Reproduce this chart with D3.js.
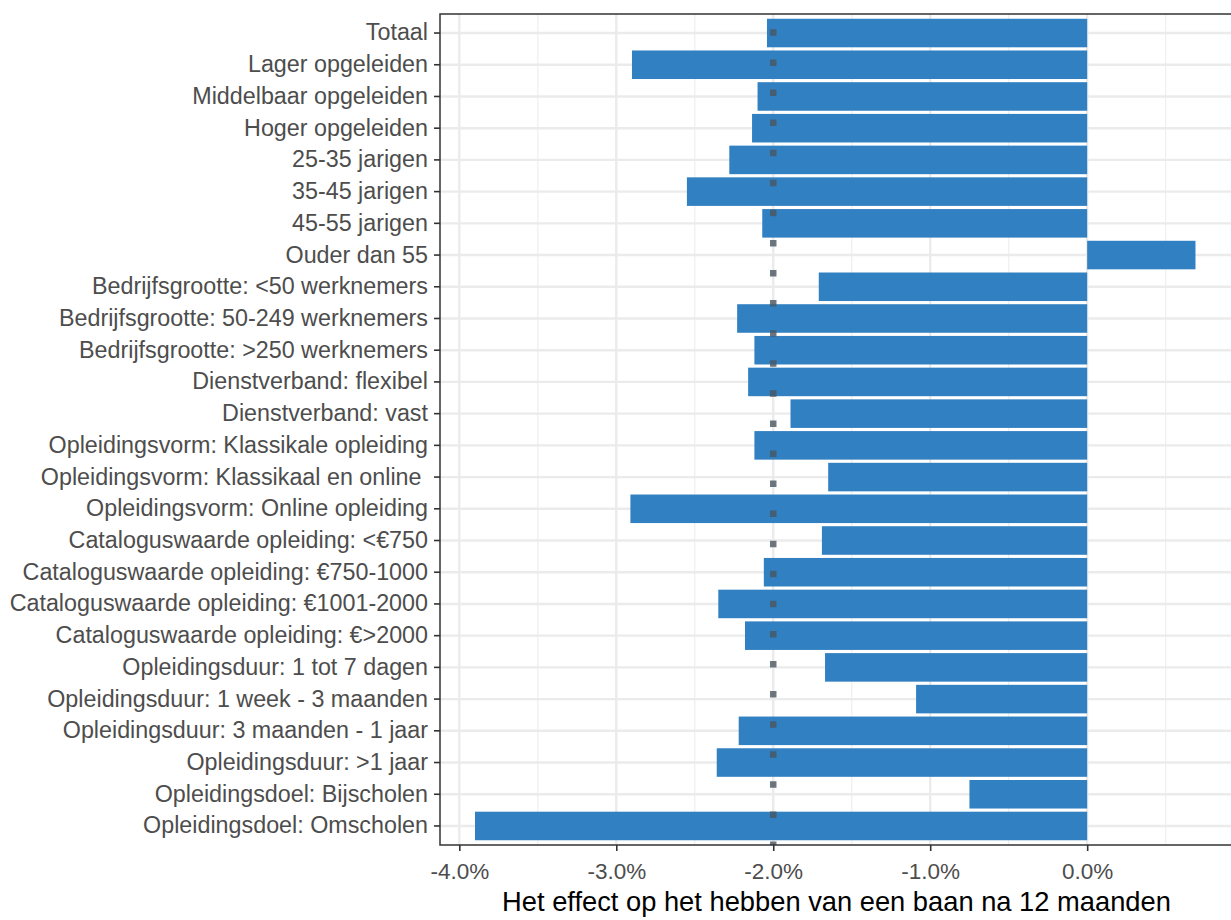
<!DOCTYPE html>
<html>
<head>
<meta charset="utf-8">
<script src="https://cdn.jsdelivr.net/npm/d3@7"></script>
<style>
  body { margin: 0; background: #fff; }
  svg { display: block; }
  text { font-family: "Liberation Sans", Arial, sans-serif; }
</style>
</head>
<body>
<svg id="chart" width="1231" height="920"></svg>
<script>
const categories = [
  "Totaal",
  "Lager opgeleiden",
  "Middelbaar opgeleiden",
  "Hoger opgeleiden",
  "25-35 jarigen",
  "35-45 jarigen",
  "45-55 jarigen",
  "Ouder dan 55",
  "Bedrijfsgrootte: <50 werknemers",
  "Bedrijfsgrootte: 50-249 werknemers",
  "Bedrijfsgrootte: >250 werknemers",
  "Dienstverband: flexibel",
  "Dienstverband: vast",
  "Opleidingsvorm: Klassikale opleiding",
  "Opleidingsvorm: Klassikaal en online ",
  "Opleidingsvorm: Online opleiding",
  "Cataloguswaarde opleiding: <€750",
  "Cataloguswaarde opleiding: €750-1000",
  "Cataloguswaarde opleiding: €1001-2000",
  "Cataloguswaarde opleiding: €>2000",
  "Opleidingsduur: 1 tot 7 dagen",
  "Opleidingsduur: 1 week - 3 maanden",
  "Opleidingsduur: 3 maanden - 1 jaar",
  "Opleidingsduur: >1 jaar",
  "Opleidingsdoel: Bijscholen",
  "Opleidingsdoel: Omscholen"
];
// effect in percent
const effects = [
  -2.04, -2.90, -2.10, -2.135, -2.28, -2.55, -2.07, 0.69,
  -1.71, -2.23, -2.12, -2.16, -1.89, -2.12, -1.65, -2.91,
  -1.69, -2.06, -2.35, -2.18, -1.67, -1.09, -2.22, -2.36,
  -0.75, -3.90
];
const xTicks = [-4, -3, -2, -1, 0];
const xTickLabels = ["-4.0%", "-3.0%", "-2.0%", "-1.0%", "0.0%"];
const xMinorTicks = [-3.5, -2.5, -1.5, -0.5, 0.5];
const referenceLine = -2.0;
const xTitle = "Het effect op het hebben van een baan na 12 maanden";

const data = categories.map((c, i) => ({ cat: c, val: effects[i] }));

const pLeft = 440, pRight = 1233, pTop = 14, pBottom = 845;
const svg = d3.select("#chart");

const x = d3.scaleLinear().domain([-4.123, 0.929]).range([pLeft, pRight]);
const y = d3.scaleBand().domain(categories).range([pTop, pBottom])
  .paddingInner(0.1).paddingOuter(0.15);

svg.append("defs").append("clipPath").attr("id", "panel")
  .append("rect").attr("x", pLeft).attr("y", pTop)
  .attr("width", pRight - pLeft).attr("height", pBottom - pTop);

const panel = svg.append("g").attr("clip-path", "url(#panel)");

panel.selectAll("line.minor").data(xMinorTicks).enter().append("line")
  .attr("x1", d => x(d)).attr("x2", d => x(d))
  .attr("y1", pTop).attr("y2", pBottom)
  .attr("stroke", "#f0f0f0").attr("stroke-width", 1.3);
panel.selectAll("line.majorx").data(xTicks).enter().append("line")
  .attr("x1", d => x(d)).attr("x2", d => x(d))
  .attr("y1", pTop).attr("y2", pBottom)
  .attr("stroke", "#ebebeb").attr("stroke-width", 2.4);
panel.selectAll("line.majory").data(categories).enter().append("line")
  .attr("x1", pLeft).attr("x2", pRight)
  .attr("y1", d => y(d) + y.bandwidth() / 2).attr("y2", d => y(d) + y.bandwidth() / 2)
  .attr("stroke", "#ebebeb").attr("stroke-width", 2.4);

panel.selectAll("rect.bar").data(data).enter().append("rect")
  .attr("x", d => x(Math.min(0, d.val)))
  .attr("width", d => Math.abs(x(d.val) - x(0)))
  .attr("y", d => y(d.cat))
  .attr("height", y.bandwidth())
  .attr("fill", "#3180c2");

panel.append("line")
  .attr("x1", x(referenceLine)).attr("x2", x(referenceLine))
  .attr("y1", pBottom + 3).attr("y2", pTop)
  .attr("stroke", "#4a5560").attr("stroke-opacity", 0.8)
  .attr("stroke-width", 6.5)
  .attr("stroke-dasharray", "6.5 23.58");

svg.append("rect").attr("x", pLeft).attr("y", pTop)
  .attr("width", pRight - pLeft).attr("height", pBottom - pTop)
  .attr("fill", "none").attr("stroke", "#333").attr("stroke-width", 1.5);

const yAxis = svg.append("g").attr("transform", `translate(${pLeft},0)`)
  .call(d3.axisLeft(y).tickSize(6).tickPadding(6));
yAxis.select(".domain").remove();
yAxis.selectAll(".tick line").attr("stroke", "#333").attr("stroke-width", 1.6);
yAxis.selectAll(".tick text")
  .attr("fill", "#4d4d4d")
  .style("font-size", "23.3px")
  .style("white-space", "pre");
yAxis.attr("font-family", null).attr("font-size", null);

const xAxis = svg.append("g").attr("transform", `translate(0,${pBottom})`)
  .call(d3.axisBottom(x).tickValues(xTicks)
    .tickFormat((d, i) => xTickLabels[i])
    .tickSize(6).tickPadding(12));
xAxis.select(".domain").remove();
xAxis.selectAll(".tick line").attr("stroke", "#333").attr("stroke-width", 1.6);
xAxis.selectAll(".tick text")
  .attr("fill", "#4d4d4d")
  .style("font-size", "22.5px");
xAxis.attr("font-family", null).attr("font-size", null);

svg.append("text")
  .attr("x", (pLeft + pRight) / 2).attr("y", 911)
  .attr("text-anchor", "middle")
  .attr("fill", "#000")
  .style("font-size", "27.3px")
  .text(xTitle);
</script>
</body>
</html>
